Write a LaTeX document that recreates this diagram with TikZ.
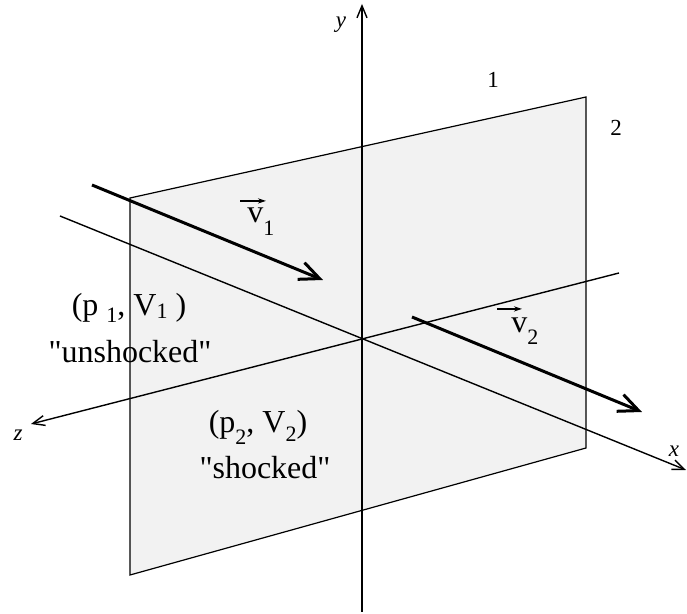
\documentclass[tikz,border=0pt]{standalone}
\usepackage{fontspec}
\setmainfont{Liberation Serif}
\usetikzlibrary{arrows.meta}

\definecolor{sheetgray}{HTML}{F2F2F2}
\newcommand\lowidx[2][3pt]{\raisebox{-#1}{\fontsize{11}{11}\selectfont #2}}

\begin{document}
\begin{tikzpicture}[x=0.5pt,y=-0.5pt,
    sheet/.style={draw, line width=0.6pt, fill=sheetgray},
    axis/.style={line width=0.7pt, -{Straight Barb[length=6pt,width=5pt]}},
    vel/.style={line width=1.5pt, -{Straight Barb[length=10pt,width=9pt]}},
    over/.style={line width=0.6pt, -{Stealth[length=4pt,width=2.6pt]}},
    txt/.style={font=\fontsize{16}{19}\selectfont, inner sep=0pt, anchor=base},
    lab/.style={font=\fontsize{11.5}{14}\selectfont, inner sep=0pt}
  ]
  \useasboundingbox (0,0) rectangle (687,614);

  % shock plane
  \coordinate (pa) at (130,198);
  \coordinate (pb) at (586,97);
  \coordinate (pc) at (586,448);
  \coordinate (pd) at (130,575);
  \draw[sheet] (pa) -- (pb) -- (pc) -- (pd) -- cycle;

  % axes
  \coordinate (ybot) at (362,612);
  \coordinate (ytop) at (362,4);
  \coordinate (xbeg) at (60,216);
  \coordinate (xend) at (686,470);
  \coordinate (zbeg) at (619,273);
  \coordinate (zend) at (31,424);
  \draw[axis] (ybot) -- (ytop);
  \draw[axis] (xbeg) -- (xend);
  \draw[axis] (zbeg) -- (zend);
  \node[lab] (ly) at (341,25) {\itshape y};
  \node[lab] (lx) at (674,451) {\itshape x};
  \node[lab] (lz) at (18,435) {\itshape z};
  \node[lab] (side1) at (493,80) {1};
  \node[lab] (side2) at (616,128) {2};

  % flow velocities
  \coordinate (v1beg) at (92,185);
  \coordinate (v1end) at (323,280);
  \coordinate (v2beg) at (412,317);
  \coordinate (v2end) at (642,412);
  \draw[vel] (v1beg) -- (v1end);
  \draw[vel] (v2beg) -- (v2end);
  \node[txt, anchor=base west] (lv1) at (247,223) {v\lowidx[6.5pt]{1}};
  \node[txt, anchor=base west] (lv2) at (511,333) {v\lowidx[6pt]{2}};
  \draw[over] ([shift={(-7,-7)}]lv1.north west) -- ++(26,0);
  \draw[over] ([shift={(-14,-9)}]lv2.north west) -- ++(25,0);

  % states
  \node[txt] (st1) at (129,316) {(p \lowidx[3.5pt]{1}, V\lowidx[1.5pt]{1} )};
  \node[txt] (un) at (130,363) {\textquotedbl unshocked\textquotedbl};
  \node[txt] (st2) at (258,433) {(p\lowidx[6pt]{2}, V\lowidx[4.5pt]{2})};
  \node[txt] (sh) at (265,479) {\textquotedbl shocked\textquotedbl};
\end{tikzpicture}
\end{document}
